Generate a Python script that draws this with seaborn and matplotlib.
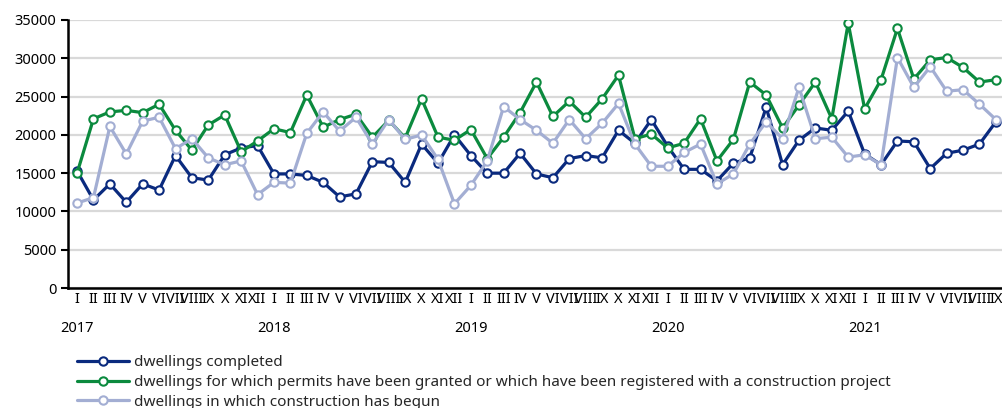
import numpy as np
import pandas as pd
import matplotlib
matplotlib.use("Agg")
import matplotlib.pyplot as plt
import seaborn as sns

months = ["I", "II", "III", "IV", "V", "VI", "VII", "VIII", "IX", "X", "XI", "XII"]
years = ["2017", "2018", "2019", "2020", "2021"]
month_labels = months * 4 + months[:9]

completed = [15300, 11500, 13600, 11200, 13600, 12800, 17300, 14400, 14100, 17400, 18300, 18600,
             14900, 14900, 14700, 13800, 11900, 12300, 16500, 16400, 13800, 18800, 16300, 20000,
             17300, 15000, 15000, 17600, 14900, 14400, 16900, 17300, 17000, 20600, 18900, 22000,
             18500, 15500, 15500, 14000, 16300, 17000, 23600, 16100, 19300, 20900, 20600, 23100,
             17500, 16100, 19200, 19100, 15600, 17600, 18000, 18800, 21700]
permits = [15000, 22100, 23000, 23200, 22900, 24000, 20600, 18000, 21300, 22600, 17800, 19200,
           20800, 20300, 25200, 21000, 22000, 22700, 19700, 21900, 19600, 24700, 19700, 19300,
           20700, 16900, 19700, 22900, 26900, 22400, 24400, 22300, 24700, 27800, 19500, 20100,
           18300, 18900, 22100, 16600, 19400, 26900, 25200, 20900, 23900, 26900, 22100, 34600,
           23400, 27200, 33900, 27300, 29800, 30100, 28800, 26900, 27200]
begun = [11100, 11800, 21100, 17500, 21800, 22300, 18200, 19500, 17000, 16100, 16600, 12200,
         13800, 13700, 20200, 23000, 20500, 22300, 18800, 22000, 19400, 20000, 16800, 11000,
         13400, 16600, 23700, 22000, 20600, 18900, 22000, 19500, 21500, 24100, 18800, 15900,
         15900, 17700, 18800, 13600, 14900, 18800, 21700, 19500, 26200, 19500, 19700, 17100,
         17400, 16100, 30100, 26200, 28900, 25700, 25900, 24000, 22000]

series_names = [
    "dwellings completed",
    "dwellings for which permits have been granted or which have been registered with a construction project",
    "dwellings in which construction has begun",
]
colors = ["#0a2a7e", "#0b8a3e", "#a3aed3"]

n = len(month_labels)
x = np.arange(n)
df = pd.DataFrame({
    "x": np.tile(x, 3),
    "value": completed + permits + begun,
    "series": np.repeat(series_names, n),
})

sns.set_theme(style="white")
plt.rcParams["font.family"] = ["Noto Sans", "DejaVu Sans"]

fig = plt.figure(figsize=(10.02, 4.08), dpi=100)
ax = fig.add_axes([0.0679, 0.294, 0.935, 0.657])

sns.lineplot(data=df, x="x", y="value", hue="series", hue_order=series_names,
             palette=colors, ax=ax, linewidth=2.3, marker="o", markersize=6,
             markerfacecolor="white", markeredgewidth=1.5, dashes=False, legend=True)
for line, c in zip(ax.lines, colors):
    line.set_markeredgecolor(c)

ax.set_ylim(0, 35000)
ax.set_yticks(np.arange(0, 35001, 5000))
ax.set_xlim(-0.55, n - 0.45)
ax.yaxis.grid(True, color="#d9d9d9", linewidth=1.6)
ax.set_axisbelow(True)
ax.set_xlabel("")
ax.set_ylabel("")

ax.xaxis.remove_overlapping_locs = False
ax.set_xticks(x)
ax.set_xticklabels(month_labels, fontsize=10.5)
jan_idx = [i for i, m in enumerate(month_labels) if m == "I"]
ax.set_xticks(jan_idx, minor=True)
ax.set_xticklabels(years, minor=True, fontsize=10.5)
ax.tick_params(axis="x", which="major", length=0, pad=3, colors="black")
ax.tick_params(axis="x", which="minor", length=0, pad=24, colors="black")
ax.tick_params(axis="y", length=5, width=1.5, colors="black", labelsize=10.5, left=True)

for s in ["top", "right"]:
    ax.spines[s].set_visible(False)
for s in ["left", "bottom"]:
    ax.spines[s].set_color("black")
    ax.spines[s].set_linewidth(1.8)

handles, labels = ax.get_legend_handles_labels()
for h, c in zip(handles, colors):
    h.set_markeredgecolor(c)
    h.set_markerfacecolor("white")
ax.legend(handles, labels, loc="upper left", bbox_to_anchor=(0.01, -0.25),
          frameon=False, fontsize=11, handlelength=3.4, handletextpad=0.3,
          labelspacing=0.32, borderaxespad=0, borderpad=0)

fig.savefig("out.png", dpi=100)
